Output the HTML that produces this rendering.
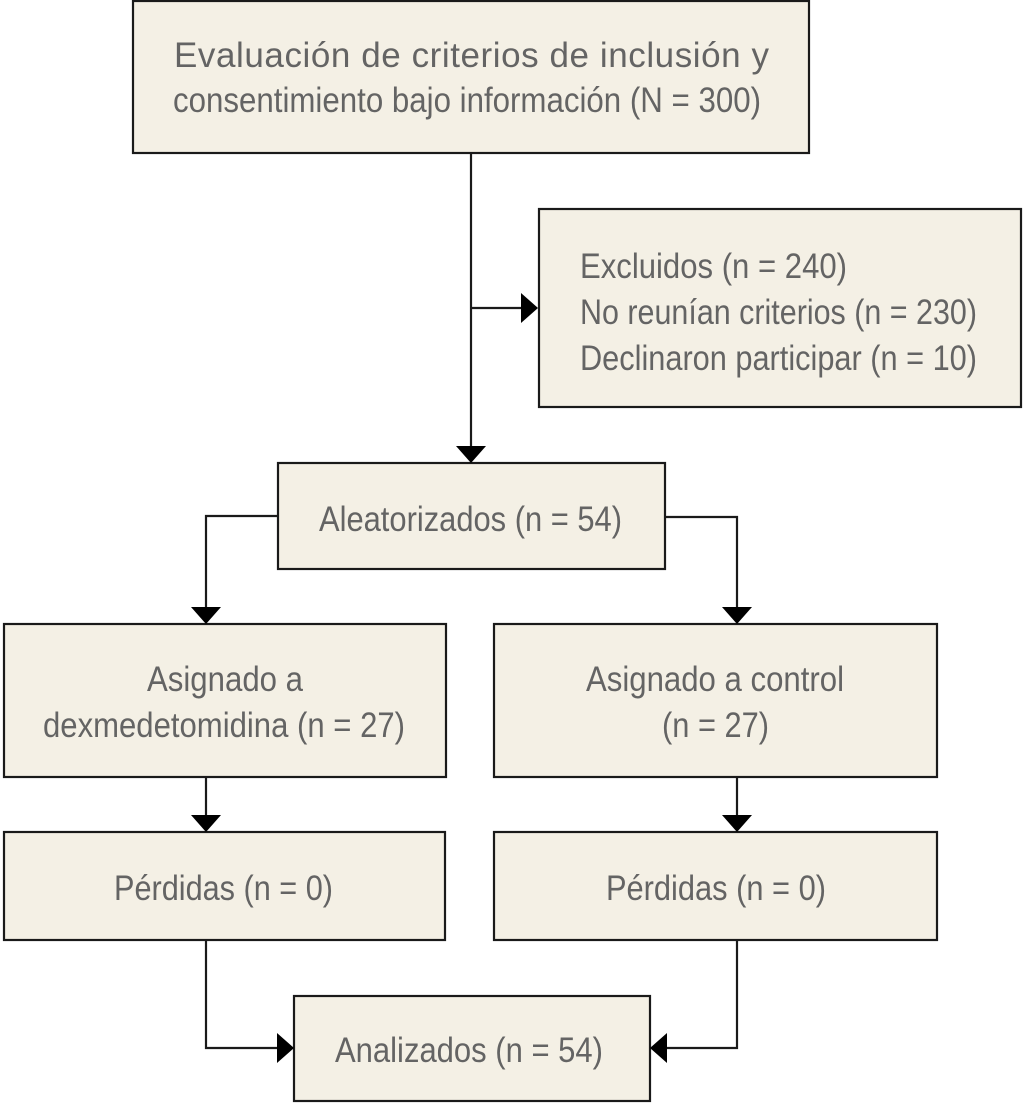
<!DOCTYPE html>
<html>
<head>
<meta charset="utf-8">
<style>
  html, body { margin: 0; padding: 0; background: #ffffff; }
  svg { display: block; }
  text { font-family: "Liberation Sans", Arial, sans-serif; font-size: 35px; fill: #646464; }
</style>
</head>
<body>
<svg width="1024" height="1103" viewBox="0 0 1024 1103" xmlns="http://www.w3.org/2000/svg">
  <!-- Boxes -->
  <g fill="#f4f0e5" stroke="#1a1a1a" stroke-width="2.2">
    <rect x="133" y="1" width="676" height="152"/>
    <rect x="539" y="209" width="482" height="198"/>
    <rect x="278" y="463" width="387" height="106"/>
    <rect x="4" y="624" width="442" height="153"/>
    <rect x="494" y="624" width="443" height="153"/>
    <rect x="4" y="832" width="441" height="108"/>
    <rect x="494" y="832" width="443" height="108"/>
    <rect x="294" y="996" width="356" height="105"/>
  </g>

  <!-- Connectors -->
  <g fill="none" stroke="#1a1a1a" stroke-width="2.2">
    <line x1="471" y1="153" x2="471" y2="448"/>
    <line x1="471" y1="308" x2="524" y2="308"/>
    <polyline points="278,516 206,516 206,609"/>
    <polyline points="665,517 737,517 737,609"/>
    <line x1="206" y1="777" x2="206" y2="817"/>
    <line x1="737" y1="777" x2="737" y2="817"/>
    <polyline points="206,940 206,1048 279,1048"/>
    <polyline points="737,940 737,1048 665,1048"/>
  </g>

  <!-- Arrowheads -->
  <g fill="#000000">
    <polygon points="456,446 486,446 471,463"/>
    <polygon points="521,293 521,323 538,308"/>
    <polygon points="191,607 221,607 206,624"/>
    <polygon points="722,607 752,607 737,624"/>
    <polygon points="191,815 221,815 206,832"/>
    <polygon points="722,815 752,815 737,832"/>
    <polygon points="277,1033 277,1063 294,1048"/>
    <polygon points="667,1033 667,1063 650,1048"/>
  </g>

  <!-- Text -->
  <text x="174" y="67" textLength="595" lengthAdjust="spacing">Evaluación de criterios de inclusión y</text>
  <text x="173" y="112" textLength="588" lengthAdjust="spacingAndGlyphs">consentimiento bajo información (N = 300)</text>

  <text x="580" y="278" textLength="267" lengthAdjust="spacingAndGlyphs">Excluidos (n = 240)</text>
  <text x="580" y="324" textLength="397" lengthAdjust="spacingAndGlyphs">No reunían criterios (n = 230)</text>
  <text x="580" y="370" textLength="397" lengthAdjust="spacingAndGlyphs">Declinaron participar (n = 10)</text>

  <text x="319" y="531" textLength="303" lengthAdjust="spacingAndGlyphs">Aleatorizados (n = 54)</text>

  <text x="147" y="691" textLength="156" lengthAdjust="spacingAndGlyphs">Asignado a</text>
  <text x="43" y="737" textLength="362" lengthAdjust="spacingAndGlyphs">dexmedetomidina (n = 27)</text>

  <text x="586" y="691" textLength="258" lengthAdjust="spacingAndGlyphs">Asignado a control</text>
  <text x="662" y="737" textLength="107" lengthAdjust="spacingAndGlyphs">(n = 27)</text>

  <text x="114" y="900" textLength="219" lengthAdjust="spacingAndGlyphs">Pérdidas (n = 0)</text>
  <text x="606" y="900" textLength="220" lengthAdjust="spacingAndGlyphs">Pérdidas (n = 0)</text>

  <text x="335" y="1062" textLength="268" lengthAdjust="spacingAndGlyphs">Analizados (n = 54)</text>
</svg>
</body>
</html>
